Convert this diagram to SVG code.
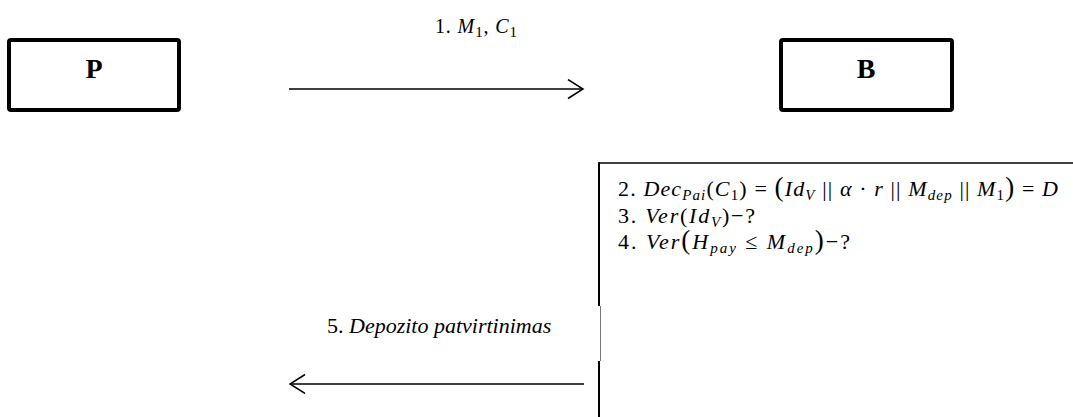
<svg xmlns="http://www.w3.org/2000/svg" width="1073" height="417" viewBox="0 0 1073 417">
<style>
.box{fill:#fff;stroke:#000;stroke-width:4}
.nl{font-family:"Liberation Serif",serif;font-weight:bold;font-size:28px;fill:#000;text-anchor:middle}
.m{font-family:"Liberation Serif","DejaVu Serif",serif;font-size:22px;fill:#000}
.i{font-style:italic}
.s{font-size:15px}
.big{font-size:27px}
.conn{stroke:#000;stroke-width:1.4;fill:none}
</style>
<defs>
<marker id="open" markerUnits="userSpaceOnUse" markerWidth="20" markerHeight="22" refX="16" refY="10" orient="auto">
<path d="M1,0.5 L16,10 L1,19.5" fill="none" stroke="#000" stroke-width="1.5"/>
</marker>
</defs>
<g id="node-P">
<rect class="box" x="9" y="40" width="170" height="70" rx="2"/>
<text class="nl" x="94" y="78">P</text>
</g>
<g id="node-B">
<rect class="box" x="781" y="40" width="171" height="70" rx="2"/>
<text class="nl" x="866" y="78">B</text>
</g>
<g id="node-B-process">
<line x1="598" y1="163" x2="1073" y2="163" stroke="#000" stroke-width="1.5"/>
<line x1="599" y1="162.5" x2="599" y2="306" stroke="#000" stroke-width="2"/>
<line x1="600.5" y1="306" x2="600.5" y2="361" stroke="#777" stroke-width="1"/>
<line x1="599" y1="361" x2="599" y2="417" stroke="#000" stroke-width="2"/>
<text class="m" x="618" y="196" textLength="440" lengthAdjust="spacing">2. <tspan class="i">Dec</tspan><tspan class="i s" dy="4">Pai</tspan><tspan dy="-4">(</tspan><tspan class="i">C</tspan><tspan class="s" dy="4">1</tspan><tspan dy="-4">) = </tspan><tspan class="big">(</tspan><tspan class="i">Id</tspan><tspan class="i s" dy="4">V</tspan><tspan dy="-4"> || </tspan><tspan class="i">α</tspan> · <tspan class="i">r</tspan> || <tspan class="i">M</tspan><tspan class="i s" dy="4">dep</tspan><tspan dy="-4"> || </tspan><tspan class="i">M</tspan><tspan class="s" dy="4">1</tspan><tspan class="big" dy="-4">)</tspan> = <tspan class="i">D</tspan></text>
<text class="m" x="618" y="223" textLength="137" lengthAdjust="spacing">3. <tspan class="i">Ver</tspan>(<tspan class="i">Id</tspan><tspan class="i s" dy="4">V</tspan><tspan dy="-4">)−?</tspan></text>
<text class="m" x="618" y="249" textLength="232" lengthAdjust="spacing">4. <tspan class="i">Ver</tspan><tspan class="big">(</tspan><tspan class="i">H</tspan><tspan class="i s" dy="4">pay</tspan><tspan dy="-4"> ≤ </tspan><tspan class="i">M</tspan><tspan class="i s" dy="4">dep</tspan><tspan class="big" dy="-4">)</tspan>−?</text>
</g>
<g id="connectors">
<line class="conn" x1="289" y1="89" x2="583" y2="89" marker-end="url(#open)"/>
<text class="m" x="435" y="33" style="font-size:20px" textLength="82" lengthAdjust="spacing">1.  <tspan class="i">M</tspan><tspan class="s" dy="4">1</tspan><tspan dy="-4">, </tspan><tspan class="i">C</tspan><tspan class="s" dy="4">1</tspan></text>
<line class="conn" x1="584" y1="384" x2="290" y2="384" marker-end="url(#open)"/>
<text class="m" x="327" y="333">5. <tspan class="i">Depozito patvirtinimas</tspan></text>
</g>
</svg>
